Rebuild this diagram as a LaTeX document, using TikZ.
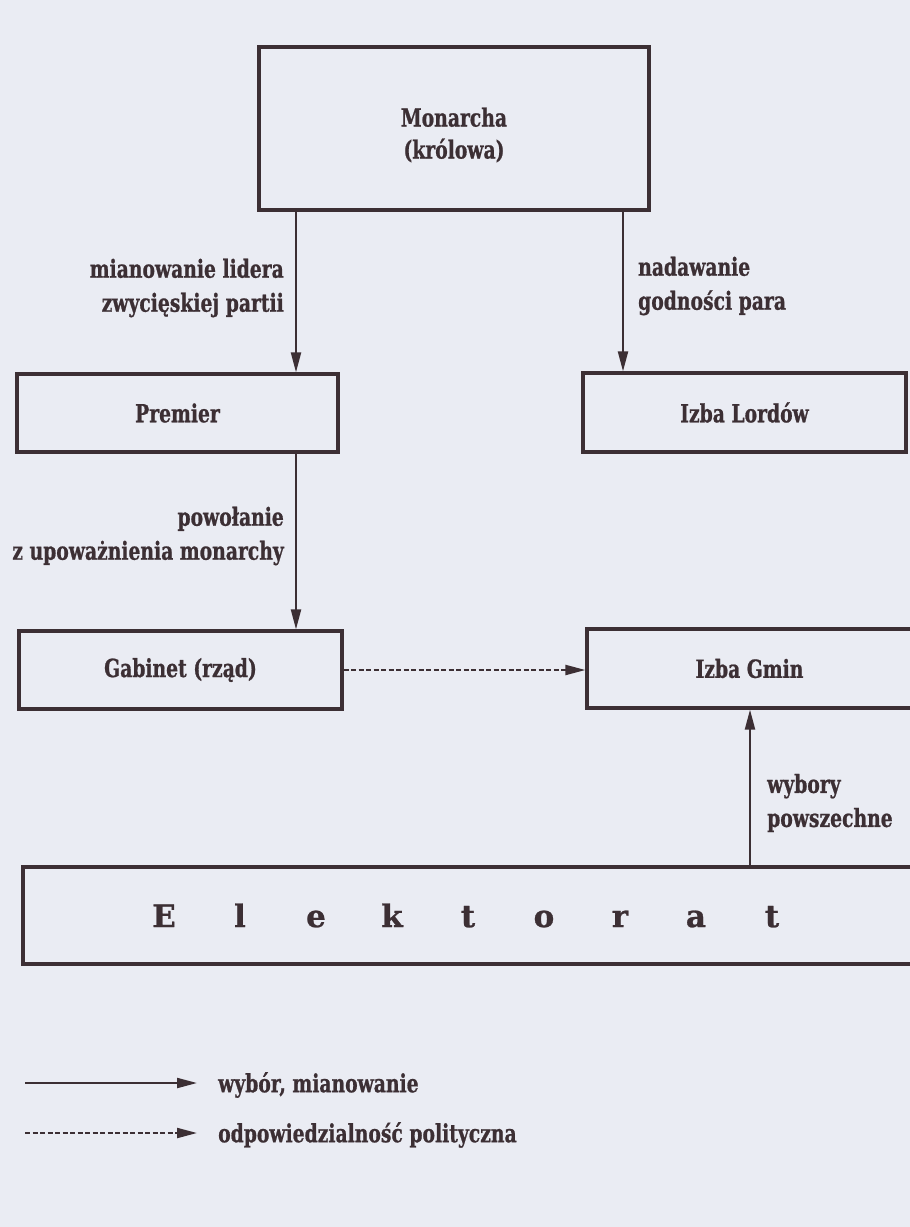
\documentclass[tikz,border=0pt]{standalone}
\usepackage{fontspec}
\setmainfont{DejaVu Serif}[FakeStretch=0.75, BoldFeatures={FakeBold=0.8}]
\newfontfamily\widefont{DejaVu Serif}[BoldFeatures={FakeBold=0.8}]
\usetikzlibrary{arrows.meta}
\definecolor{ink}{RGB}{60,47,52}
\definecolor{paper}{RGB}{234,236,243}

\begin{document}
\begin{tikzpicture}[x=1pt,y=-1pt,
  box/.style={draw=ink, line width=3.2pt, inner sep=0pt, text=ink,
              font=\bfseries\fontsize{25}{32}\selectfont, align=center},
  lbl/.style={text=ink, inner sep=0pt, font=\bfseries\fontsize{25}{34}\selectfont},
  arr/.style={draw=ink, line width=2.1pt, -{Triangle[length=20pt,width=10pt]}},
  dsh/.style={arr, dash pattern=on 5pt off 2.5pt}
]
\fill[paper] (0,0) rectangle (910,1227);
\useasboundingbox (0,0) rectangle (910,1227);

% x positions of the vertical connectors
\coordinate (xl) at (296,0);
\coordinate (xr) at (623,0);
\coordinate (xe) at (750,0);

\begin{scope}
\clip (0,0) rectangle (910,1227);

% boxes
\node[box, minimum width=390pt, minimum height=163pt] (mon) at (454,128.5) {\rule{0pt}{32pt}Monarcha\\(królowa)};
\node[box, minimum width=321pt, minimum height=78pt] (prem) at (177.5,413) {Premier};
\node[box, minimum width=323pt, minimum height=79pt] (lords) at (744.5,412.5) {Izba Lordów};
\node[box, minimum width=323pt, minimum height=78pt] (cab) at (180.5,670) {Gabinet (rząd)};
\node[box, minimum width=325pt, minimum height=79pt] (commons) at (749.5,668.5) {Izba Gmin};
\node[box, minimum width=890pt, minimum height=97pt, font=\widefont\bfseries\fontsize{31}{31}\selectfont]
  (elect) at (468,915.5)
  {\makebox[76pt]{E}\makebox[76pt]{l}\makebox[76pt]{e}\makebox[76pt]{k}\makebox[76pt]{t}\makebox[76pt]{o}\makebox[76pt]{r}\makebox[76pt]{a}\makebox[76pt]{t}};
\end{scope}

% appointment connectors
\draw[arr] (mon.south -| xl) -- (prem.north -| xl);
\draw[arr] (mon.south -| xr) -- (lords.north -| xr);
\draw[arr] (prem.south -| xl) -- (cab.north -| xl);
\draw[arr] (elect.north -| xe) -- (commons.south -| xe);
% political responsibility
\draw[dsh] (cab.east) -- (cab.east -| commons.west);

% connector labels
\node[lbl, align=right, anchor=east] (l1) at (284,288) {mianowanie lidera\\zwycięskiej partii};
\node[lbl, align=left, anchor=west] (l2) at (638,286) {nadawanie\\godności para};
\node[lbl, align=right, anchor=east] (l3) at (284,536) {powołanie\\z upoważnienia monarchy};
\node[lbl, align=left, anchor=west] (l4) at (767,803) {wybory\\powszechne};

% legend
\coordinate (k1s) at (25,1083);
\coordinate (k1e) at (197,1083);
\coordinate (k2s) at (25,1133);
\coordinate (k2e) at (197,1133);
\draw[arr] (k1s) -- (k1e);
\draw[dsh] (k2s) -- (k2e);
\node[lbl, anchor=west] (k1) at (218,1085) {wybór, mianowanie};
\node[lbl, anchor=west] (k2) at (218,1135) {odpowiedzialność polityczna};
\end{tikzpicture}
\end{document}
